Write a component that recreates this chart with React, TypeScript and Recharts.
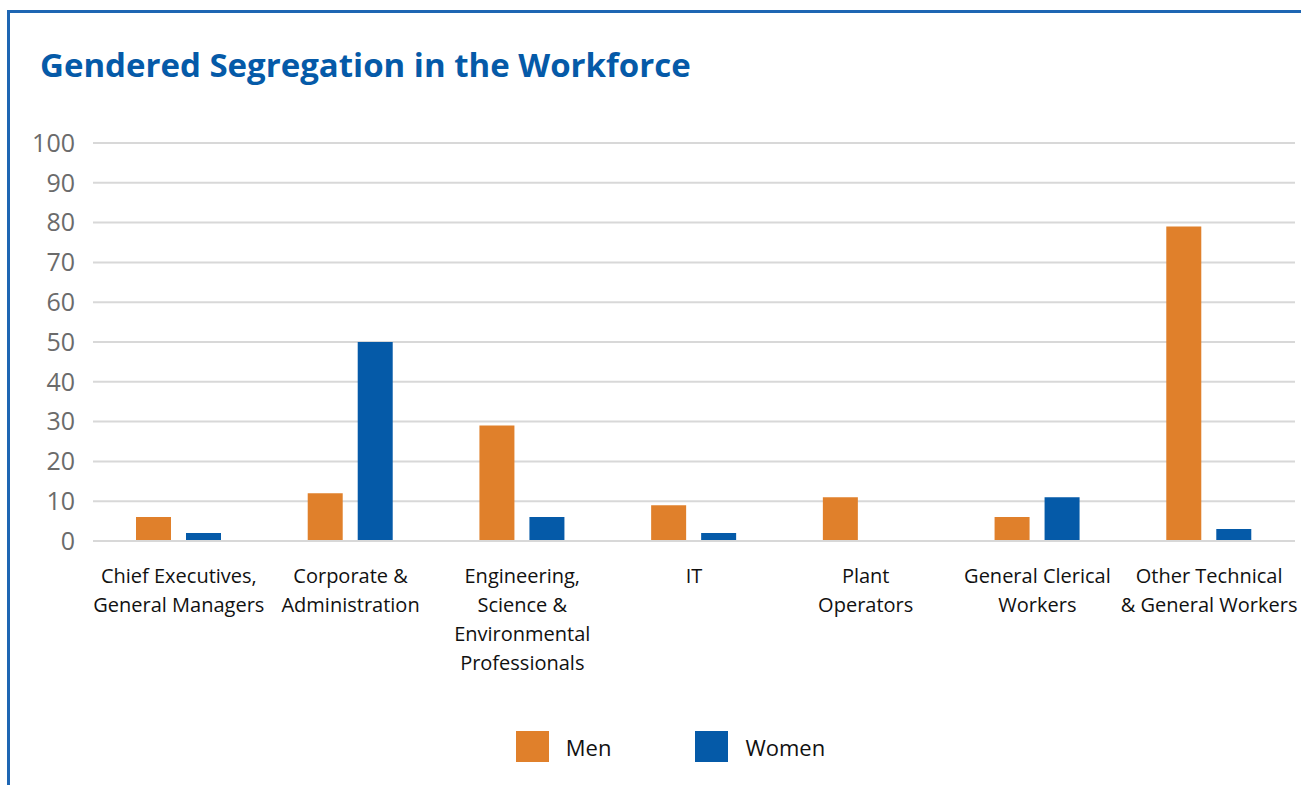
import React from "react";
import { BarChart, Bar, XAxis, YAxis, CartesianGrid, Legend } from "recharts";

const categories = [
  "Chief Executives,\nGeneral Managers",
  "Corporate &\nAdministration",
  "Engineering,\nScience &\nEnvironmental\nProfessionals",
  "IT",
  "Plant\nOperators",
  "General Clerical\nWorkers",
  "Other Technical\n& General Workers",
];
const men = [6, 12, 29, 9, 11, 6, 79];
const women = [2, 50, 6, 2, 0, 11, 3];
const yTicks = [0, 10, 20, 30, 40, 50, 60, 70, 80, 90, 100];

const ORANGE = "#e0802b";
const BLUE = "#055aa8";
const FONT = "'Open Sans', sans-serif";

const data = categories.map((name, i) => ({ name, men: men[i], women: women[i] }));

const CategoryTick = ({ x, y, payload }: any) => {
  const lines = String(payload.value).split("\n");
  return (
    <text x={x} y={y} textAnchor="middle" fontFamily={FONT} fontSize={20} fill="#111">
      {lines.map((l, i) => (
        <tspan key={i} x={x} dy={i === 0 ? 34 : 29}>
          {l}
        </tspan>
      ))}
    </text>
  );
};

const LegendContent = ({ payload }: any) => (
  <div style={{ display: "flex", justifyContent: "center", alignItems: "center", gap: 84, paddingLeft: 46 }}>
    {(payload || []).map((p: any) => (
      <div key={p.value} style={{ display: "flex", alignItems: "center" }}>
        <span style={{ width: 33, height: 31, background: p.color, display: "inline-block", marginRight: 17 }} />
        <span style={{ fontFamily: FONT, fontSize: 22, color: "#111" }}>{p.value}</span>
      </div>
    ))}
  </div>
);

export default function App() {
  return (
    <div style={{ position: "fixed", left: 0, top: 0, width: 1301, height: 785, background: "#fff", overflow: "hidden" }}>
      <div
        style={{
          position: "absolute",
          left: 7,
          top: 10,
          width: 1400,
          height: 900,
          borderLeft: "3px solid #1e66b3",
          borderTop: "3px solid #1e66b3",
        }}
      />
      <div
        style={{
          position: "absolute",
          left: 40,
          top: 42,
          fontFamily: FONT,
          fontWeight: 700,
          fontSize: 33,
          color: BLUE,
          whiteSpace: "nowrap",
        }}
      >
        Gendered Segregation in the Workforce
      </div>
      <div style={{ position: "absolute", left: 0, top: 0 }}>
        <BarChart
          width={1301}
          height={785}
          data={data}
          barSize={35}
          barGap={15}
          margin={{ top: 143, right: 6, left: 0, bottom: 0 }}
        >
          <CartesianGrid vertical={false} stroke="#d8d8d8" strokeWidth={2} />
          <XAxis
            dataKey="name"
            height={190}
            interval={0}
            tick={<CategoryTick />}
            tickLine={false}
            axisLine={{ stroke: "#d8d8d8", strokeWidth: 2 }}
          />
          <YAxis
            width={93}
            domain={[0, 100]}
            ticks={yTicks}
            interval={0}
            tickLine={false}
            axisLine={false}
            tickSize={0}
            tickMargin={18}
            tick={{ fontFamily: FONT, fontSize: 25, fill: "#6b6b6b" }}
          />
          <Legend verticalAlign="bottom" height={54} content={<LegendContent />} />
          <Bar dataKey="men" name="Men" fill={ORANGE} isAnimationActive={false} />
          <Bar dataKey="women" name="Women" fill={BLUE} isAnimationActive={false} />
        </BarChart>
      </div>
    </div>
  );
}
